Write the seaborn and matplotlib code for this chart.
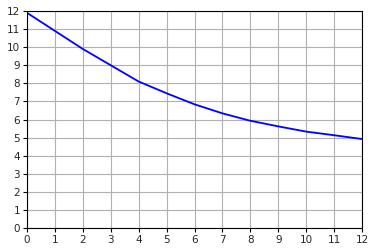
import matplotlib
matplotlib.use("Agg")
import matplotlib.pyplot as plt
import seaborn as sns
import pandas as pd

x_vals = [0, 1, 2, 3, 4, 5, 6, 7, 8, 9, 10, 11, 12]
y_vals = [11.9, 10.9, 9.9, 9.0, 8.1, 7.45, 6.84, 6.34, 5.93, 5.62, 5.33, 5.13, 4.92]
ticks = list(range(13))

sns.set_style("white")
plt.rcParams['font.family'] = ['DejaVu Sans']

df = pd.DataFrame({"x": x_vals, "y": y_vals})
fig = plt.figure(figsize=(3.75, 2.52), dpi=100)
ax = fig.add_axes([27/375, 1 - 228/252, (362-27)/375, (228-11)/252])
sns.lineplot(data=df, x="x", y="y", color="blue", linewidth=1.3, ax=ax)
ax.set_xlim(0, 12)
ax.set_ylim(0, 12)
ax.set_xticks(ticks)
ax.set_yticks(ticks)
ax.grid(True, color="#b0b0b0", linewidth=0.8)
ax.set_axisbelow(True)
ax.set_xlabel("")
ax.set_ylabel("")
for s in ax.spines.values():
    s.set_color("black")
    s.set_linewidth(0.8)
ax.tick_params(axis="both", labelsize=7.5, length=3, width=0.8, color="black", pad=2, bottom=True, left=True)
fig.savefig("out.png", dpi=100)
